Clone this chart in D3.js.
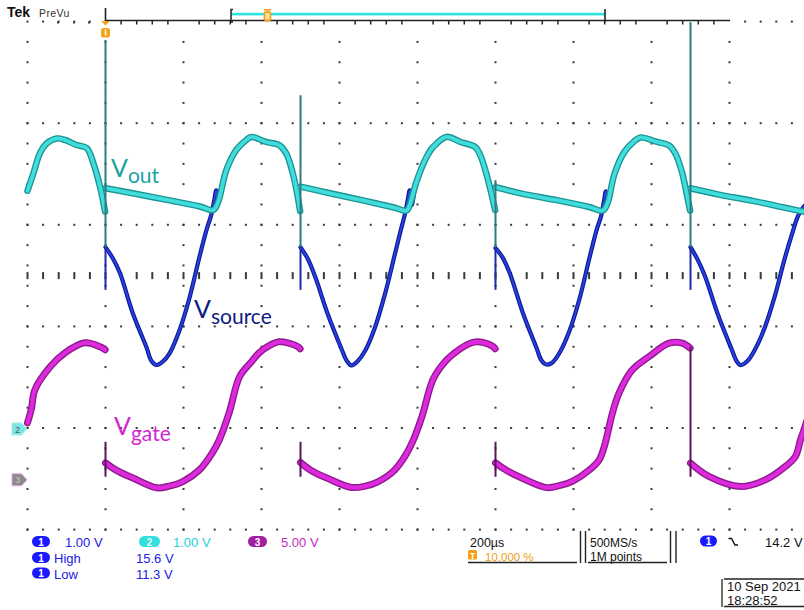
<!DOCTYPE html>
<html>
<head>
<meta charset="utf-8">
<script src="https://cdn.jsdelivr.net/npm/d3@7"></script>
<style>
  body { margin: 0; background: #fff; }
  svg { display: block; }
</style>
</head>
<body>
<svg id="scope" width="804" height="610"></svg>
<script>
// ---- Acquisition settings -------------------------------------------------
const timePerDivUs = 200;                 // 200 µs/div
const timeDomain = [-200, 1800];          // µs, trigger at t = 0 (10 % of record)
const edgeT = [0, 500, 1000, 1500];       // switching edges (µs)

const channelNames = ["Vsource", "Vout", "Vgate"];   // CH1, CH2, CH3
const voltsPerDiv  = [1.00, 1.00, 5.00];
const groundDiv    = [-13.06, -3.02, -4.02];         // ground level, in divisions from centre

// ---- CH2: Vout (V) --------------------------------------------------------
const voutT = [
  -200, -185, -168, -151, -125, -104, -74, -48, -31, -14, -1,
  0, 70, 157, 242, 276, 288, 310, 335, 361, 374, 412, 445, 463, 480, 493, 499,
  500, 570, 660, 740, 772, 780, 797, 823, 840, 874, 910, 948, 963, 976, 989, 999,
  1000, 1070, 1160, 1240, 1275, 1287, 1305, 1330, 1355, 1372, 1410, 1445, 1462, 1478, 1491, 1499,
  1500, 1570, 1660, 1740, 1777, 1790];
const voutV = [
  4.69, 5.03, 5.43, 5.62, 5.72, 5.69, 5.59, 5.53, 5.23, 4.77, 4.28,
  4.74, 4.64, 4.51, 4.38, 4.31, 4.45, 5.10, 5.49, 5.69, 5.75, 5.65, 5.59, 5.43, 5.04, 4.57, 4.29,
  4.77, 4.65, 4.50, 4.36, 4.30, 4.41, 4.86, 5.35, 5.55, 5.75, 5.65, 5.55, 5.35, 5.04, 4.65, 4.31,
  4.76, 4.63, 4.50, 4.37, 4.30, 4.44, 5.02, 5.45, 5.66, 5.74, 5.66, 5.58, 5.41, 5.06, 4.60, 4.30,
  4.74, 4.62, 4.49, 4.36, 4.30, 4.28];

// ---- CH1: Vsource (V) -----------------------------------------------------
const vsourceT = [
  -200, -185, -168, -151, -125, -104, -74, -48, -31, -14, -1,
  0, 18, 37, 70, 105, 118, 131, 146, 165, 190, 216, 241, 259, 271, 279, 284, 289, 310, 335, 361, 374, 412, 445, 463, 480, 493, 499,
  500, 518, 537, 570, 605, 618, 631, 646, 665, 690, 716, 741, 758, 768, 775, 780, 785, 797, 823, 840, 874, 910, 948, 963, 976, 989, 999,
  1000, 1018, 1037, 1070, 1105, 1118, 1131, 1146, 1165, 1190, 1216, 1241, 1259, 1271, 1278, 1283, 1288, 1305, 1330, 1355, 1372, 1410, 1445, 1462, 1478, 1491, 1499,
  1500, 1518, 1537, 1570, 1605, 1618, 1628, 1646, 1665, 1690, 1716, 1741, 1762, 1775, 1785, 1800];
const vsourceV = [
  14.73, 15.07, 15.47, 15.66, 15.76, 15.73, 15.63, 15.57, 15.27, 14.81, 14.32,
  13.62, 13.41, 13.11, 12.32, 11.65, 11.38, 11.30, 11.36, 11.54, 11.99, 12.64, 13.43, 13.96, 14.25, 14.55, 14.74, 14.49, 15.14, 15.53, 15.73, 15.79, 15.69, 15.63, 15.47, 15.08, 14.61, 14.33,
  13.62, 13.40, 13.05, 12.30, 11.62, 11.39, 11.29, 11.37, 11.57, 12.02, 12.68, 13.45, 13.98, 14.28, 14.55, 14.74, 14.45, 14.90, 15.39, 15.59, 15.79, 15.69, 15.59, 15.39, 15.08, 14.69, 14.35,
  13.60, 13.42, 13.10, 12.33, 11.64, 11.39, 11.31, 11.35, 11.55, 11.98, 12.62, 13.41, 13.95, 14.24, 14.52, 14.72, 14.47, 15.06, 15.49, 15.70, 15.78, 15.70, 15.62, 15.45, 15.10, 14.64, 14.34,
  13.62, 13.38, 13.05, 12.30, 11.62, 11.38, 11.30, 11.38, 11.60, 12.03, 12.65, 13.38, 13.92, 14.22, 14.36, 14.50];

// ---- CH3: Vgate (V) -------------------------------------------------------
const vgateT = [
  -200, -190, -181, -142, -104, -53, -14, -1,
  0, 26, 69, 131, 166, 197, 241, 274, 292, 317, 344, 372, 394, 420, 445, 470, 494, 499,
  500, 526, 569, 631, 666, 697, 741, 770, 788, 812, 840, 870, 894, 920, 945, 970, 994, 999,
  1000, 1026, 1069, 1131, 1166, 1197, 1241, 1266, 1279, 1300, 1317, 1351, 1394, 1445, 1479, 1499,
  1500, 1547, 1628, 1692, 1743, 1769, 1782, 1790, 1800];
const vgateV = [
  5.61, 7.00, 8.86, 11.12, 12.50, 13.49, 13.09, 12.80,
  1.67, 0.98, 0.20, -0.79, -0.59, -0.20, 0.98, 2.66, 3.94, 6.59, 10.17, 11.52, 12.50, 13.20, 13.58, 13.45, 13.09, 12.89,
  1.70, 0.95, 0.15, -0.75, -0.62, -0.22, 0.95, 2.45, 3.80, 6.30, 9.90, 11.60, 12.45, 13.15, 13.55, 13.50, 13.10, 12.90,
  1.67, 0.98, 0.15, -0.77, -0.55, -0.15, 0.98, 1.97, 3.28, 6.59, 8.56, 10.83, 12.14, 13.45, 13.45, 12.96,
  1.64, 0.33, -0.66, 0.00, 1.31, 2.29, 3.94, 4.80, 6.00];

// ---- Switching spikes at each edge (V) ------------------------------------
const spikeCh2Top    = [7.66, 6.57, 4.90, 8.01];
const spikeCh2Bottom = [3.58, 3.58, 3.58, 3.58];
const spikeCh1Top    = [13.62, 13.62, 13.60, 13.62];
const spikeCh1Bottom = [12.78, 12.78, 12.78, 12.78];
const spikeCh3Top    = [3.74, 3.74, 3.74, 13.09];
const spikeCh3Bottom = [0.30, 0.30, 0.30, 0.30];

// ---- Readouts -------------------------------------------------------------
const scaleLabels = ["1.00 V", "1.00 V", "5.00 V"];
const measLabels  = ["High", "Low"];
const measValues  = ["15.6 V", "11.3 V"];
const timebaseLabel = "200\u00b5s";
const triggerPosLabel = "10.000 %";
const sampleRateLabel = "500MS/s";
const recordLabel = "1M points";
const triggerLevelLabel = "14.2 V";
const dateLabel = "10 Sep 2021";
const clockLabel = "18:28:52";

// ---- Layout ---------------------------------------------------------------
const svg = d3.select("#scope");
const plotTop = 21.6, plotBottom = 529.6;

const x = d3.scaleLinear().domain(timeDomain).range([27.5, 807.5]);
const yGrid = d3.scaleLinear().domain([-5, 5]).range([plotBottom, plotTop]);
const yCh = voltsPerDiv.map((vpd, i) =>
  d3.scaleLinear()
    .domain([(-5 - groundDiv[i]) * vpd, (5 - groundDiv[i]) * vpd])
    .range([plotBottom, plotTop]));
const [y1, y2, y3] = yCh;

// ---- Graticule ------------------------------------------------------------
const g = svg.append("g").attr("class", "graticule").attr("fill", "#3a3a3a");
const majorT = d3.range(timeDomain[0], timeDomain[1] + 1, timePerDivUs);
const minorT = d3.range(timeDomain[0], timeDomain[1] + 1, timePerDivUs / 5);
const minorDiv = d3.range(-5, 5.001, 0.4);
const rowDiv = [-5, -3, -1, 1, 3, 5];
const barStart = 105, barEnd = 730;

// vertical dotted columns
majorT.forEach(t => {
  minorDiv.forEach(d => {
    if (d > 4.9) return;
    g.append("rect").attr("x", x(t) - 1).attr("y", yGrid(d) - 1).attr("width", 2).attr("height", 2);
  });
});
// horizontal dotted rows
rowDiv.forEach(d => {
  minorT.forEach(t => {
    const px = x(t);
    if (d === 5 && px > barStart - 4 && px < barEnd + 4) return;
    if (px > 805) return;
    g.append("rect").attr("x", px - 1).attr("y", yGrid(d) - 1).attr("width", 2).attr("height", 2);
  });
});
// centre axis ticks
minorT.forEach(t => {
  const px = x(t);
  if (px > 805) return;
  g.append("rect").attr("x", px - 1).attr("y", yGrid(0) - 3.5).attr("width", 2).attr("height", 7);
});

// ---- Record bar at top ----------------------------------------------------
const bar = svg.append("g");
bar.append("line").attr("x1", barStart).attr("x2", barEnd).attr("y1", 20.5).attr("y2", 20.5)
  .attr("stroke", "#222").attr("stroke-width", 1.6);
minorT.forEach((t, i) => {
  const px = x(t);
  if (px <= barStart + 2 || px >= barEnd - 2 || i % 5 === 0) return;
  bar.append("line").attr("x1", px).attr("x2", px).attr("y1", 20.5).attr("y2", 24.5)
    .attr("stroke", "#222").attr("stroke-width", 1.5);
});
bar.append("rect").attr("x", 231).attr("y", 12.8).attr("width", 374).attr("height", 2.6).attr("fill", "#2fe3e3");
[[105.5, 8], [605, 9]].forEach(([px, top]) =>
  bar.append("line").attr("x1", px).attr("x2", px).attr("y1", top).attr("y2", 22)
    .attr("stroke", "#222").attr("stroke-width", 1.6));
bar.append("path").attr("d", "M233,9.5 H231 V22 H233").attr("fill", "none")
  .attr("stroke", "#222").attr("stroke-width", 1.5);
// view marker on the record bar
bar.append("rect").attr("x", 264.5).attr("y", 12).attr("width", 6).attr("height", 8.5).attr("rx", 2)
  .attr("fill", "#fde2a8").attr("stroke", "#f3a21c").attr("stroke-width", 1.8);
bar.append("line").attr("x1", 264).attr("x2", 271).attr("y1", 9.8).attr("y2", 9.8)
  .attr("stroke", "#f3a21c").attr("stroke-width", 1.6);

// trigger position marker
bar.append("path").attr("d", `M${x(0) - 4.5},21 L${x(0) + 4.5},21 L${x(0)},25.5 Z`).attr("fill", "#f3a21c");
bar.append("rect").attr("x", x(0) - 4.5).attr("y", 28).attr("width", 9).attr("height", 9.5).attr("rx", 2.5)
  .attr("fill", "#f3a21c");
bar.append("rect").attr("x", x(0) - 0.8).attr("y", 29.5).attr("width", 1.6).attr("height", 6).attr("fill", "#fff4dc");

// ---- Header ---------------------------------------------------------------
svg.append("text").attr("x", 7).attr("y", 17).text("Tek")
  .attr("font-family", "Liberation Sans, Arial, sans-serif").attr("font-weight", "bold")
  .attr("font-size", 14).attr("fill", "#111");
svg.append("text").attr("x", 39).attr("y", 17).text("PreVu")
  .attr("font-family", "Liberation Sans, Arial, sans-serif").attr("font-size", 10.5)
  .attr("fill", "#333").attr("letter-spacing", 0.4);
[58, 74, 89].forEach(px => svg.append("rect").attr("x", px - 1).attr("y", 21.5).attr("width", 2).attr("height", 2).attr("fill", "#3a3a3a"));

// ---- Traces ---------------------------------------------------------------
function segments(T, V) {
  const segs = [[]];
  T.forEach((t, i) => {
    if (i > 0 && edgeT.some(e => T[i - 1] < e && t >= e)) segs.push([]);
    segs[segs.length - 1].push([t, V[i]]);
  });
  return segs;
}

function drawTrace(T, V, yScale, outer, outerW, inner, innerW) {
  const line = d3.line().x(d => x(d[0])).y(d => yScale(d[1])).curve(d3.curveCatmullRom.alpha(0.5));
  const grp = svg.append("g").attr("fill", "none").attr("stroke-linejoin", "round").attr("stroke-linecap", "round");
  const segs = segments(T, V);
  segs.forEach(s => grp.append("path").attr("d", line(s)).attr("stroke", outer).attr("stroke-width", outerW));
  segs.forEach(s => grp.append("path").attr("d", line(s)).attr("stroke", inner).attr("stroke-width", innerW));
}

// spike lines
const spikes = svg.append("g").attr("stroke-width", 2);
edgeT.forEach((t, i) => {
  spikes.append("line").attr("x1", x(t)).attr("x2", x(t))
    .attr("y1", y3(spikeCh3Top[i])).attr("y2", y3(spikeCh3Bottom[i])).attr("stroke", "#5c125c");
});

drawTrace(vgateT, vgateV, y3, "#8e1b8e", 7, "#dc2adc", 4.2);
drawTrace(vsourceT, vsourceV, y1, "#0b1a8e", 4.2, "#2a3ee6", 2);
drawTrace(voutT, voutV, y2, "#1c9494", 6.5, "#41dcdc", 3.8);

edgeT.forEach((t, i) => {
  spikes.append("line").attr("x1", x(t)).attr("x2", x(t))
    .attr("y1", y1(spikeCh1Top[i])).attr("y2", y1(spikeCh1Bottom[i])).attr("stroke", "#1a2aa8");
  spikes.append("line").attr("x1", x(t)).attr("x2", x(t))
    .attr("y1", y2(spikeCh2Top[i])).attr("y2", y2(spikeCh2Bottom[i])).attr("stroke", "#2a7d7e");
});
spikes.raise();

// ---- Trace labels ---------------------------------------------------------
function traceLabel(px, py, main, sub, color) {
  const t = svg.append("text").attr("x", px).attr("y", py)
    .attr("font-family", "Lato, 'Open Sans', sans-serif").attr("fill", color);
  t.append("tspan").attr("font-size", 25).text(main);
  t.append("tspan").attr("font-size", 21).attr("dy", 6).text(sub);
}
traceLabel(111, 177, "V", "out", "#1aa3a3");
traceLabel(194, 318, "V", "source", "#0d1b7d");
traceLabel(114, 435, "V", "gate", "#d027d0");

// ---- Channel ground markers ----------------------------------------------
function marker(py, fill, stroke, label, textColor) {
  const m = svg.append("g");
  m.append("path").attr("d", `M12,${py - 6} H21.5 L27,${py} L21.5,${py + 6} H12 Z`)
    .attr("fill", fill).attr("stroke", stroke).attr("stroke-width", 1);
  m.append("text").attr("x", 15).attr("y", py + 3.5).text(label)
    .attr("font-family", "Liberation Sans, Arial, sans-serif").attr("font-size", 9.5).attr("fill", textColor);
}
marker(y2(0), "#7fe6e6", "#9ff0f0", "2", "#4a5a6a");
marker(y3(0), "#8a8a8a", "#e6a6e6", "3", "#c8c8c8");

// ---- Readout area ---------------------------------------------------------
const ro = svg.append("g").attr("font-family", "Liberation Sans, Arial, sans-serif").attr("font-size", 13);
function badge(px, py, w, fill, label, textFill) {
  ro.append("rect").attr("x", px).attr("y", py).attr("width", w).attr("height", 11).attr("rx", 5.5).attr("fill", fill);
  ro.append("text").attr("x", px + w / 2).attr("y", py + 9.5).attr("text-anchor", "middle")
    .attr("font-size", 10).attr("font-weight", "bold").attr("fill", textFill).text(label);
}
const chColors = ["#2020e6", "#22cfd6", "#c02cc0"];
const badgeFill = ["#1a1aff", "#33dede", "#a21fa2"];
const badgeX = [32, 139, 248];
const scaleX = [65, 173, 281];
scaleLabels.forEach((s, i) => {
  badge(badgeX[i], 536, i === 0 ? 18 : (i === 1 ? 21 : 19), badgeFill[i], String(i + 1), i === 1 ? "#e6ffff" : "#fff");
  ro.append("text").attr("x", scaleX[i]).attr("y", 547).attr("fill", chColors[i]).text(s);
});
measLabels.forEach((lab, i) => {
  const py = 552 + i * 15.5;
  badge(32, py, 18, "#1a1aff", "1", "#fff");
  ro.append("text").attr("x", 54).attr("y", py + 11).attr("fill", "#2020e6").text(lab);
  ro.append("text").attr("x", 136).attr("y", py + 11).attr("fill", "#2020e6").text(measValues[i]);
});

// timebase box
ro.append("text").attr("x", 470).attr("y", 546.5).attr("font-size", 12.5).attr("fill", "#111").text(timebaseLabel);
ro.append("rect").attr("x", 468).attr("y", 550).attr("width", 9).attr("height", 9.5).attr("rx", 1.5).attr("fill", "#f5a00f");
ro.append("text").attr("x", 472.5).attr("y", 558.5).attr("text-anchor", "middle").attr("font-size", 8.5)
  .attr("font-weight", "bold").attr("fill", "#fff").text("T");
ro.append("text").attr("x", 485).attr("y", 560.5).attr("fill", "#f0a010").attr("font-size", 11.5).text(triggerPosLabel);
ro.append("line").attr("x1", 468).attr("x2", 577).attr("y1", 562.5).attr("y2", 562.5).attr("stroke", "#222").attr("stroke-width", 1.3);

// acquisition box
ro.append("text").attr("x", 590).attr("y", 546.5).attr("font-size", 12).attr("fill", "#111").text(sampleRateLabel);
ro.append("text").attr("x", 590).attr("y", 561).attr("font-size", 12).attr("fill", "#111").text(recordLabel);
ro.append("line").attr("x1", 588).attr("x2", 667).attr("y1", 562.5).attr("y2", 562.5).attr("stroke", "#222").attr("stroke-width", 1.3);
[580.5, 585.5, 670.5, 676].forEach(px =>
  ro.append("line").attr("x1", px).attr("x2", px).attr("y1", 531).attr("y2", 563).attr("stroke", "#222").attr("stroke-width", 1.4));

// trigger readout
badge(700, 535.5, 17, "#1a1aff", "1", "#fff");
ro.append("path").attr("d", "M728.5,538.5 H731.5 L735,545 H738").attr("fill", "none").attr("stroke", "#111").attr("stroke-width", 1.4);
ro.append("text").attr("x", 765).attr("y", 547).attr("fill", "#111").text(triggerLevelLabel);

// date / time box
ro.append("text").attr("x", 727).attr("y", 591).attr("fill", "#111").text(dateLabel);
ro.append("text").attr("x", 727).attr("y", 604.5).attr("fill", "#111").text(clockLabel);
ro.append("line").attr("x1", 724).attr("x2", 804).attr("y1", 579).attr("y2", 579).attr("stroke", "#222").attr("stroke-width", 1.3);
ro.append("line").attr("x1", 724).attr("x2", 804).attr("y1", 606.5).attr("y2", 606.5).attr("stroke", "#222").attr("stroke-width", 1.3);
ro.append("line").attr("x1", 722).attr("x2", 722).attr("y1", 579).attr("y2", 607).attr("stroke", "#222").attr("stroke-width", 1.3);
</script>
</body>
</html>
